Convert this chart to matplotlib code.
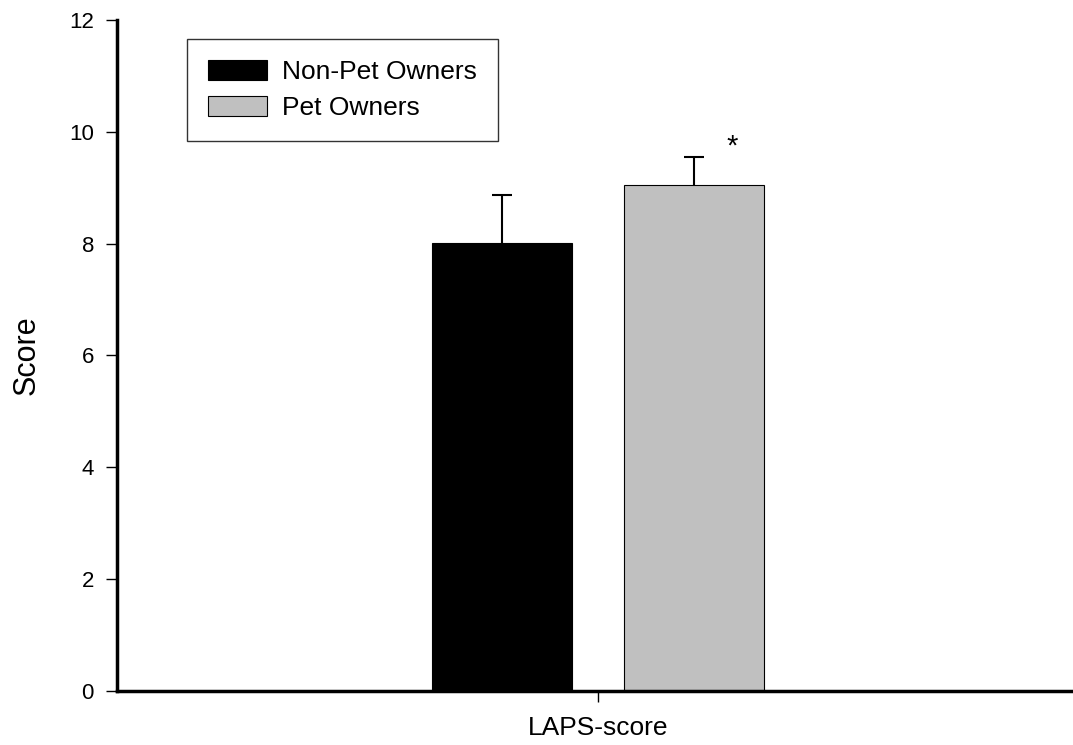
import numpy as np
import matplotlib
matplotlib.use('Agg')
import matplotlib.pyplot as plt

plt.rcParams['font.family'] = ['Liberation Sans', 'DejaVu Sans']

# data
groups = ['Non-Pet Owners', 'Pet Owners']
means = [8.02, 9.05]
errors = [0.85, 0.50]
colors = ['#000000', '#c0c0c0']
category = 'LAPS-score'

fig = plt.figure(figsize=(10.73, 7.45), dpi=100)
ax = fig.add_axes([0.1095, 0.0725, 0.8905, 0.9007])

center = 0.503
offsets = [-0.1007, 0.1007]
width = 0.1465

for name, m, e, c, off in zip(groups, means, errors, colors, offsets):
    x = center + off
    ax.bar(x, m, width=width, color=c, edgecolor='black', linewidth=0.8, label=name, zorder=2)
    _, caps, _ = ax.errorbar(x, m, yerr=[[0], [e]], fmt='none', ecolor='black', elinewidth=1.5,
                             capsize=7.5, capthick=1.5, zorder=3)
    # only the upper cap is drawn
    for cap in caps:
        if cap.get_ydata()[0] <= m:
            cap.set_visible(False)

# significance marker
ax.text(center + offsets[1] + 0.040, means[1] + errors[1] - 0.06, '*', fontsize=21,
        ha='center', va='bottom')

ax.set_xlim(0, 1)
ax.set_ylim(0, 12)
ax.set_yticks(np.arange(0, 13, 2))
ax.set_xticks([center])
ax.set_xticklabels([category])
ax.tick_params(axis='both', direction='out', length=8, width=1)
ax.tick_params(axis='y', labelsize=16, pad=9)
ax.tick_params(axis='x', labelsize=19, pad=10)
ax.set_ylabel('Score', fontsize=22, labelpad=20)

for side in ['top', 'right']:
    ax.spines[side].set_visible(False)
for side in ['left', 'bottom']:
    ax.spines[side].set_linewidth(2.5)

leg = ax.legend(loc='upper left', bbox_to_anchor=(0.0725, 0.9716), fontsize=19, frameon=True,
                fancybox=False, edgecolor='black', handlelength=2.25, handleheight=0.76,
                handletextpad=0.55, borderpad=0.8, labelspacing=0.45, borderaxespad=0)
leg.get_frame().set_linewidth(1.0)

fig.savefig('out.png', dpi=100)
